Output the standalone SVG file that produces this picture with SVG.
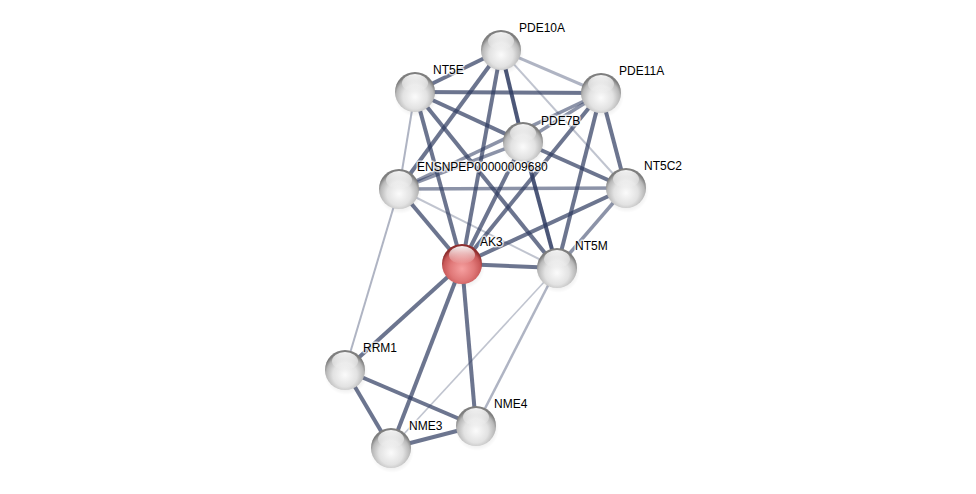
<svg xmlns="http://www.w3.org/2000/svg" width="976" height="494" viewBox="0 0 976 494">
<defs>
<radialGradient id="gw" cx="50%" cy="62%" r="55%">
<stop offset="0%" stop-color="#fbfbfb"/>
<stop offset="55%" stop-color="#e2e2e2"/>
<stop offset="85%" stop-color="#b8b8b8"/>
<stop offset="100%" stop-color="#7e7e7e"/>
</radialGradient>
<radialGradient id="gr" cx="50%" cy="62%" r="55%">
<stop offset="0%" stop-color="#f6a0a0"/>
<stop offset="55%" stop-color="#e07878"/>
<stop offset="85%" stop-color="#c85858"/>
<stop offset="100%" stop-color="#8e2e2e"/>
</radialGradient>
<linearGradient id="hl" x1="0" y1="0" x2="0" y2="1">
<stop offset="0%" stop-color="#ffffff" stop-opacity="0.95"/>
<stop offset="100%" stop-color="#ffffff" stop-opacity="0"/>
</linearGradient>
<radialGradient id="sh" cx="50%" cy="50%" r="50%">
<stop offset="0%" stop-color="#000" stop-opacity="0.25"/>
<stop offset="100%" stop-color="#000" stop-opacity="0"/>
</radialGradient>
</defs>
<style>
.e{stroke:#2d3a60;fill:none;stroke-linecap:butt}
.s{stroke-width:4;stroke-opacity:0.7}
.d{stroke-width:4;stroke-opacity:0.85}
.m{stroke-width:3.5;stroke-opacity:0.55}
.l{stroke-width:2.5;stroke-opacity:0.38}
.t{stroke-width:1.6;stroke-opacity:0.3}
.sph{fill:url(#gw)}
.red{fill:url(#gr)}
.hi{fill:url(#hl)}
.shd{fill:url(#sh)}
text{font-family:"Liberation Sans",Arial,sans-serif;font-size:12px;fill:#000;stroke:#fff;stroke-width:3;stroke-opacity:0.7;paint-order:stroke;stroke-linejoin:round}
</style>
<rect width="976" height="494" fill="#fff"/>
<g id="edges">
<line class="e s" x1="501" y1="50" x2="415" y2="92"/>
<line class="e l" x1="501" y1="50" x2="601" y2="93" style="stroke-width:3"/>
<line class="e d" x1="501" y1="50" x2="523" y2="142"/>
<line class="e s" x1="501" y1="50" x2="399" y2="189"/>
<line class="e s" x1="501" y1="50" x2="462" y2="264"/>
<line class="e t" x1="501" y1="50" x2="626" y2="188" style="stroke-width:2"/>
<line class="e s" x1="415" y1="92" x2="601" y2="93"/>
<line class="e s" x1="415" y1="92" x2="523" y2="142"/>
<line class="e l" x1="415" y1="92" x2="399" y2="189" style="stroke-width:2"/>
<line class="e s" x1="415" y1="92" x2="462" y2="264"/>
<line class="e s" x1="415" y1="92" x2="557" y2="268"/>
<line class="e m" x1="601" y1="93" x2="523" y2="142"/>
<line class="e m" x1="601" y1="93" x2="399" y2="189"/>
<line class="e s" x1="601" y1="93" x2="626" y2="188"/>
<line class="e s" x1="601" y1="93" x2="557" y2="268"/>
<line class="e s" x1="601" y1="93" x2="462" y2="264"/>
<line class="e m" x1="523" y1="142" x2="399" y2="189"/>
<line class="e s" x1="523" y1="142" x2="626" y2="188"/>
<line class="e d" x1="523" y1="142" x2="557" y2="268"/>
<line class="e s" x1="523" y1="142" x2="462" y2="264"/>
<line class="e m" x1="399" y1="189" x2="626" y2="188"/>
<line class="e s" x1="399" y1="189" x2="462" y2="264"/>
<line class="e t" x1="399" y1="189" x2="557" y2="268" style="stroke-width:2"/>
<line class="e l" x1="399" y1="189" x2="345" y2="370" style="stroke-width:2"/>
<line class="e s" x1="626" y1="188" x2="462" y2="264"/>
<line class="e m" x1="626" y1="188" x2="557" y2="268"/>
<line class="e s" x1="462" y1="264" x2="557" y2="268"/>
<line class="e s" x1="462" y1="264" x2="345" y2="370"/>
<line class="e s" x1="462" y1="264" x2="391" y2="448"/>
<line class="e s" x1="462" y1="264" x2="476" y2="426"/>
<line class="e t" x1="557" y1="268" x2="391" y2="448"/>
<line class="e l" x1="557" y1="268" x2="476" y2="426"/>
<line class="e s" x1="345" y1="370" x2="391" y2="448"/>
<line class="e s" x1="345" y1="370" x2="476" y2="426"/>
<line class="e s" x1="391" y1="448" x2="476" y2="426"/>
</g>
<g id="PDE10A"><ellipse class="shd" cx="502" cy="53" rx="22" ry="22"/><circle class="sph" cx="501" cy="50" r="20"/><ellipse class="hi" cx="501" cy="41" rx="13" ry="9"/><text x="519" y="32">PDE10A</text></g>
<g id="NT5E"><ellipse class="shd" cx="416" cy="95" rx="22" ry="22"/><circle class="sph" cx="415" cy="92" r="20"/><ellipse class="hi" cx="415" cy="83" rx="13" ry="9"/><text x="433" y="74">NT5E</text></g>
<g id="PDE11A"><ellipse class="shd" cx="602" cy="96" rx="22" ry="22"/><circle class="sph" cx="601" cy="93" r="20"/><ellipse class="hi" cx="601" cy="84" rx="13" ry="9"/><text x="619" y="75">PDE11A</text></g>
<g id="PDE7B"><ellipse class="shd" cx="524" cy="145" rx="22" ry="22"/><circle class="sph" cx="523" cy="142" r="20"/><ellipse class="hi" cx="523" cy="133" rx="13" ry="9"/><text x="541" y="125">PDE7B</text></g>
<g id="ENSNPEP00000009680"><ellipse class="shd" cx="400" cy="192" rx="22" ry="22"/><circle class="sph" cx="399" cy="189" r="20"/><ellipse class="hi" cx="399" cy="180" rx="13" ry="9"/><text x="417" y="171">ENSNPEP00000009680</text></g>
<g id="NT5C2"><ellipse class="shd" cx="627" cy="191" rx="22" ry="22"/><circle class="sph" cx="626" cy="188" r="20"/><ellipse class="hi" cx="626" cy="179" rx="13" ry="9"/><text x="644" y="170">NT5C2</text></g>
<g id="AK3"><ellipse class="shd" cx="463" cy="267" rx="22" ry="22"/><circle class="red" cx="462" cy="264" r="20"/><ellipse class="hi" cx="462" cy="255" rx="13" ry="9"/><text x="480" y="246">AK3</text></g>
<g id="NT5M"><ellipse class="shd" cx="558" cy="271" rx="22" ry="22"/><circle class="sph" cx="557" cy="268" r="20"/><ellipse class="hi" cx="557" cy="259" rx="13" ry="9"/><text x="575" y="250">NT5M</text></g>
<g id="RRM1"><ellipse class="shd" cx="346" cy="373" rx="22" ry="22"/><circle class="sph" cx="345" cy="370" r="20"/><ellipse class="hi" cx="345" cy="361" rx="13" ry="9"/><text x="363" y="352">RRM1</text></g>
<g id="NME4"><ellipse class="shd" cx="477" cy="429" rx="22" ry="22"/><circle class="sph" cx="476" cy="426" r="20"/><ellipse class="hi" cx="476" cy="417" rx="13" ry="9"/><text x="494" y="408">NME4</text></g>
<g id="NME3"><ellipse class="shd" cx="392" cy="451" rx="22" ry="22"/><circle class="sph" cx="391" cy="448" r="20"/><ellipse class="hi" cx="391" cy="439" rx="13" ry="9"/><text x="409" y="430">NME3</text></g>
</svg>
